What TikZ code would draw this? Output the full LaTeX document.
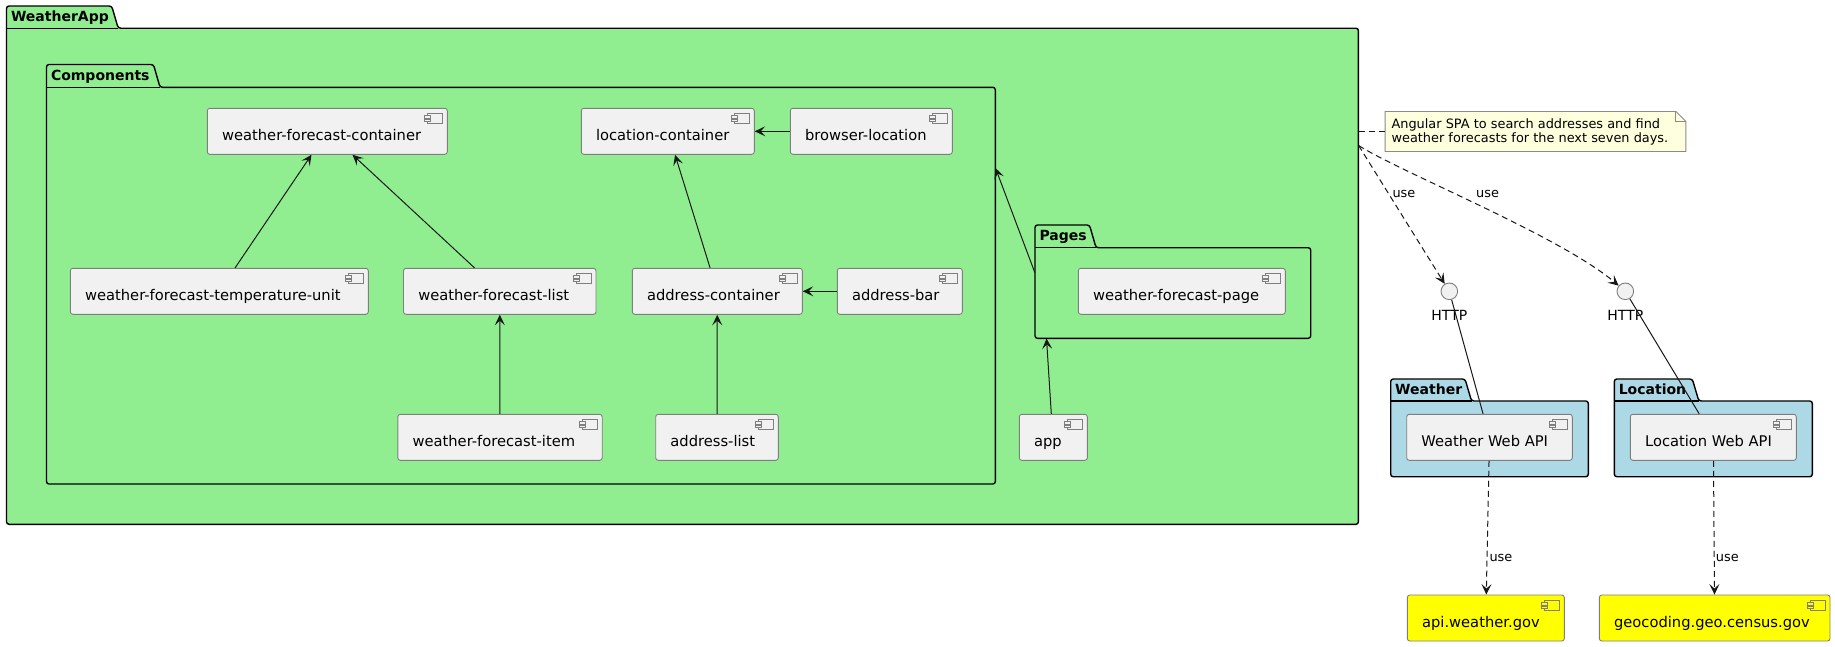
\documentclass[tikz,border=0pt]{standalone}
\usepackage{fontspec}
\setmainfont{DejaVu Sans}
\usetikzlibrary{arrows.meta}
\definecolor{pkggreen}{HTML}{90EE90}
\definecolor{pkgblue}{HTML}{ADD8E6}
\definecolor{compfill}{HTML}{F1F1F1}
\definecolor{compline}{HTML}{7F7F7F}
\definecolor{notefill}{HTML}{FEFFDD}
\definecolor{notelinec}{HTML}{8A8A8A}
\definecolor{inkc}{HTML}{181818}
\definecolor{extyellow}{HTML}{FFFF00}

\tikzset{
 compbox/.style={draw=compline, line width=0.9pt, rounded corners=2.5pt, inner sep=0pt, minimum height=46pt},
 comptxt/.style={font=\fontsize{14.7}{17}\selectfont, inner sep=0pt, anchor=base west},
 compicon/.style={draw=compline, line width=0.8pt},
 pkgline/.style={draw=black, line width=1.4pt, rounded corners=2.5pt},
 pkgtitle/.style={font=\bfseries\fontsize{14}{16}\selectfont, inner sep=0pt, anchor=base west},
 dep/.style={draw=inkc, line width=1pt, -{Stealth[length=10.5pt,width=10pt,inset=4.5pt]}},
 usedep/.style={dep, dash pattern=on 6pt off 4pt},
 notelink/.style={draw=inkc, line width=1pt, dash pattern=on 6pt off 4pt},
 uselbl/.style={font=\fontsize{12.9}{15}\selectfont, inner sep=0pt, anchor=base west},
 notetxt/.style={font=\fontsize{12.9}{15}\selectfont, inner sep=0pt, anchor=base west},
 iface/.style={circle, draw=compline, fill=compfill, line width=0.9pt, minimum size=16.6pt, inner sep=0pt},
 ifacetxt/.style={font=\fontsize{14}{16}\selectfont, inner sep=0pt, anchor=base},
 link/.style={draw=inkc, line width=1pt},
}

% #1 fill, #2 name, #3 left, #4 top, #5 width, #6 text
\newcommand{\compo}[6][compfill]{%
  \node[compbox, fill=#1, minimum width=#5pt] (#2) at ({#3+#5/2},{#4+23}) {};
  \node[comptxt] (#2-t) at ([xshift=15pt,yshift=-33pt]#2.north west) {#6};
  \draw[compicon, fill=#1] ([xshift=-20pt,yshift=-6pt]#2.north east) rectangle ([xshift=-5pt,yshift=-16pt]#2.north east);
  \draw[compicon, fill=#1] ([xshift=-23pt,yshift=-8pt]#2.north east) rectangle ([xshift=-17pt,yshift=-10.5pt]#2.north east);
  \draw[compicon, fill=#1] ([xshift=-23pt,yshift=-11.5pt]#2.north east) rectangle ([xshift=-17pt,yshift=-14pt]#2.north east);
}

% #1 fill, #2 name, #3 left, #4 tab top, #5 tab right, #6 body top, #7 right, #8 bottom, #9 title
\newcommand{\pkgbox}[9][pkggreen]{%
  \path[pkgline, fill=#1] (#3,#8) -- (#3,#4) -- (#5,#4) -- ({#5+6.5},#6) -- (#7,#6) -- (#7,#8) -- cycle;
  \draw[line width=1.4pt, black] (#3,#6) -- ({#5+6.5},#6);
  \node[pkgtitle] (#2-t) at ({#3+4.3},{#4+15.5}) {#9};
  \node[inner sep=0pt, minimum width={#7pt-#3pt}, minimum height={#8pt-#6pt}] (#2) at ({(#3+#7)/2},{(#6+#8)/2}) {};
}

\begin{document}
\begin{tikzpicture}[x=1pt,y=-1pt]
\useasboundingbox (0,0) rectangle (1835,646);
\fill[white] (0,0) rectangle (1835,646);

% packages
\pkgbox{wapp}{6.5}{6}{111.7}{28.2}{1358.4}{524.3}{WeatherApp}
\pkgbox{comps}{46.5}{64.5}{153.5}{87.3}{995.3}{484}{Components}
\pkgbox{pages}{1035}{225}{1089.5}{247.7}{1310.7}{338.3}{Pages}
\pkgbox[pkgblue]{weather}{1390.7}{379}{1465}{401}{1588.3}{476.7}{Weather}
\pkgbox[pkgblue]{location}{1614.3}{379}{1692.3}{401}{1812.3}{476.7}{Location}

% components
\compo{wfc}{207.3}{108.3}{240}{weather-forecast-container}
\compo{locc}{581.3}{108.3}{173}{location-container}
\compo{brloc}{790.3}{108.3}{162}{browser-location}
\compo{tempu}{70.3}{268.3}{298}{weather-forecast-temperature-unit}
\compo{wflist}{403.5}{268.3}{192.5}{weather-forecast-list}
\compo{addrc}{632.3}{268.3}{170}{address-container}
\compo{addrbar}{837.3}{268.3}{125}{address-bar}
\compo{wfpage}{1078.3}{268.3}{207}{weather-forecast-page}
\compo{wfitem}{397.8}{414.3}{204.4}{weather-forecast-item}
\compo{addrlist}{655.7}{414.3}{122.6}{address-list}
\compo{app}{1019.3}{414.3}{68}{app}
\compo{wwapi}{1406.7}{414.3}{165.6}{Weather Web API}
\compo{lwapi}{1630.3}{414.3}{166}{Location Web API}
\compo[extyellow]{apiwg}{1407.3}{595}{157}{api.weather.gov}
\compo[extyellow]{geo}{1599.3}{595}{230.7}{geocoding.geo.census.gov}

% dependencies inside the app
\draw[dep] (tempu) -- (wfc);
\draw[dep] (wflist) -- (wfc);
\draw[dep] (wfitem) -- (wflist);
\draw[dep] (addrc) -- (locc);
\draw[dep] (addrlist) -- (addrc);
\draw[dep] (addrbar) -- (addrc);
\draw[dep] (brloc) -- (locc);
\draw[dep] ([yshift=-25pt]pages.north west) -- ([yshift=-81pt]comps.north east);
\draw[dep] ([xshift=-2pt]app.north) -- ([xshift=11.7pt]pages.south west);

% note
\node[inner sep=0pt, minimum width=300.4pt, minimum height=39.6pt] (note) at (1535.5,131.5) {};
\draw[draw=notelinec, fill=notefill, line width=0.9pt] (note.north west) -- ([xshift=-10pt]note.north east) -- ([yshift=-10pt]note.north east) -- (note.south east) -- (note.south west) -- cycle;
\draw[draw=notelinec, line width=0.9pt] ([xshift=-10pt]note.north east) -- ([xshift=-10pt,yshift=-10pt]note.north east) -- ([yshift=-10pt]note.north east);
\node[notetxt] (note-l1) at (1391.3,128.3) {Angular SPA to search addresses and find};
\node[notetxt] (note-l2) at (1391.3,142.7) {weather forecasts for the next seven days.};
\draw[notelink] (wapp.east |- note.west) -- (note.west);

% interfaces
\node[iface] (http1) at (1449.3,291.3) {};
\node[iface] (http2) at (1625.3,291.3) {};
\node[ifacetxt] (http1-t) at (1449.3,320.7) {HTTP};
\node[ifacetxt] (http2-t) at (1625.3,320.7) {HTTP};

\coordinate (wuse) at ([yshift=-117.5pt]wapp.north east);
\draw[usedep] (wuse) -- (http1);
\draw[usedep] (wuse) .. controls (1400,172) and (1560,236) .. (http2);
\node[uselbl] (use1) at (1392.3,197.3) {use};
\node[uselbl] (use2) at (1476,197.3) {use};

% external uses
\draw[usedep] (wwapi) -- (apiwg);
\draw[usedep] (lwapi) -- (geo);
\node[uselbl] (use3) at (1489.3,561) {use};
\node[uselbl] (use4) at (1715.7,561) {use};

% provided interfaces
\draw[link] (http1) -- (wwapi);
\draw[link] (http2) -- (lwapi);
\end{tikzpicture}
\end{document}
